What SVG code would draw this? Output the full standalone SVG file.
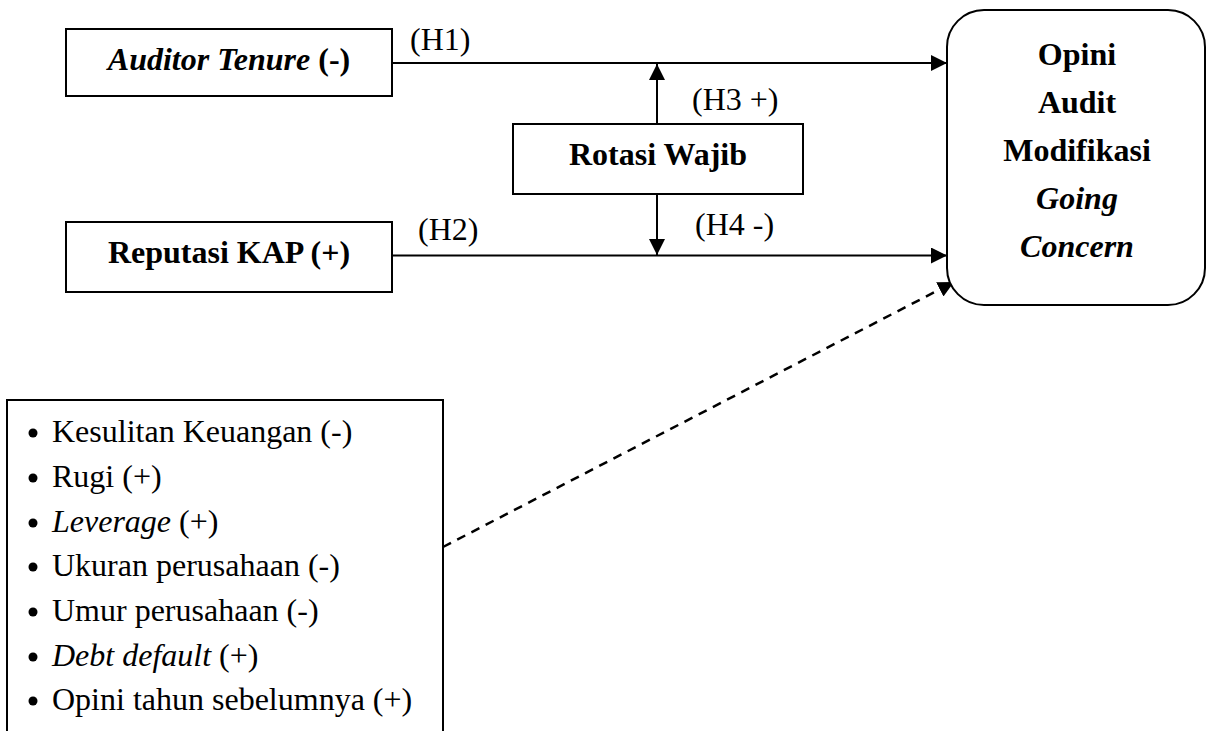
<svg xmlns="http://www.w3.org/2000/svg" width="1207" height="731" viewBox="0 0 1207 731">
<style>
text{font-family:"Liberation Serif","Times New Roman",serif;font-size:32px;fill:#000}
.b{font-weight:bold}
.i{font-style:italic}
.box{fill:#fff;stroke:#000;stroke-width:2}
.ln{stroke:#000;stroke-width:2;fill:none}
.dash{stroke:#000;stroke-width:2.5;fill:none;stroke-dasharray:9 7}
</style>
<defs>
<marker id="ah" viewBox="0 0 16 16" refX="16" refY="8" markerWidth="16" markerHeight="16" markerUnits="userSpaceOnUse" orient="auto">
<path d="M0,0 L16,8 L0,16 Z" fill="#000"/>
</marker>
</defs>
<g id="connectors">
<line class="ln" x1="392" y1="63" x2="947" y2="63" marker-end="url(#ah)"/>
<line class="ln" x1="392" y1="255.5" x2="947" y2="255.5" marker-end="url(#ah)"/>
<line class="ln" x1="657" y1="124" x2="657" y2="64" marker-end="url(#ah)"/>
<line class="ln" x1="657" y1="194" x2="657" y2="255" marker-end="url(#ah)"/>
<line class="dash" x1="443" y1="547" x2="954" y2="282" marker-end="url(#ah)"/>
<text x="410" y="50">(H1)</text>
<text x="418" y="240">(H2)</text>
<text x="692" y="110">(H3 +)</text>
<text x="695" y="235">(H4 -)</text>
</g>
<g id="auditor-tenure">
<rect class="box" x="66" y="29" width="326" height="67"/>
<text x="229" y="70" text-anchor="middle" class="b"><tspan class="i">Auditor Tenure</tspan> (-)</text>
</g>
<g id="reputasi-kap">
<rect class="box" x="66" y="222" width="326" height="70"/>
<text x="229" y="263" text-anchor="middle" class="b">Reputasi KAP (+)</text>
</g>
<g id="rotasi-wajib">
<rect class="box" x="513" y="124" width="290" height="70"/>
<text x="658" y="165" text-anchor="middle" class="b">Rotasi Wajib</text>
</g>
<g id="opini">
<rect class="box" x="947" y="10" width="258" height="295" rx="37" ry="37"/>
<text x="1077" y="65" text-anchor="middle" class="b">Opini</text>
<text x="1077" y="113" text-anchor="middle" class="b">Audit</text>
<text x="1077" y="161" text-anchor="middle" class="b">Modifikasi</text>
<text x="1077" y="209" text-anchor="middle" class="b i">Going</text>
<text x="1077" y="257" text-anchor="middle" class="b i">Concern</text>
</g>
<g id="kontrol">
<rect class="box" x="7" y="400" width="436" height="345"/>
<circle cx="33" cy="433" r="4.5"/>
<circle cx="33" cy="478" r="4.5"/>
<circle cx="33" cy="523" r="4.5"/>
<circle cx="33" cy="567" r="4.5"/>
<circle cx="33" cy="612" r="4.5"/>
<circle cx="33" cy="657" r="4.5"/>
<circle cx="33" cy="701" r="4.5"/>
<text x="52" y="442">Kesulitan Keuangan (-)</text>
<text x="52" y="487">Rugi (+)</text>
<text x="52" y="532"><tspan class="i">Leverage</tspan> (+)</text>
<text x="52" y="576">Ukuran perusahaan (-)</text>
<text x="52" y="621">Umur perusahaan (-)</text>
<text x="52" y="666"><tspan class="i">Debt default</tspan> (+)</text>
<text x="52" y="710">Opini tahun sebelumnya (+)</text>
</g>
</svg>
